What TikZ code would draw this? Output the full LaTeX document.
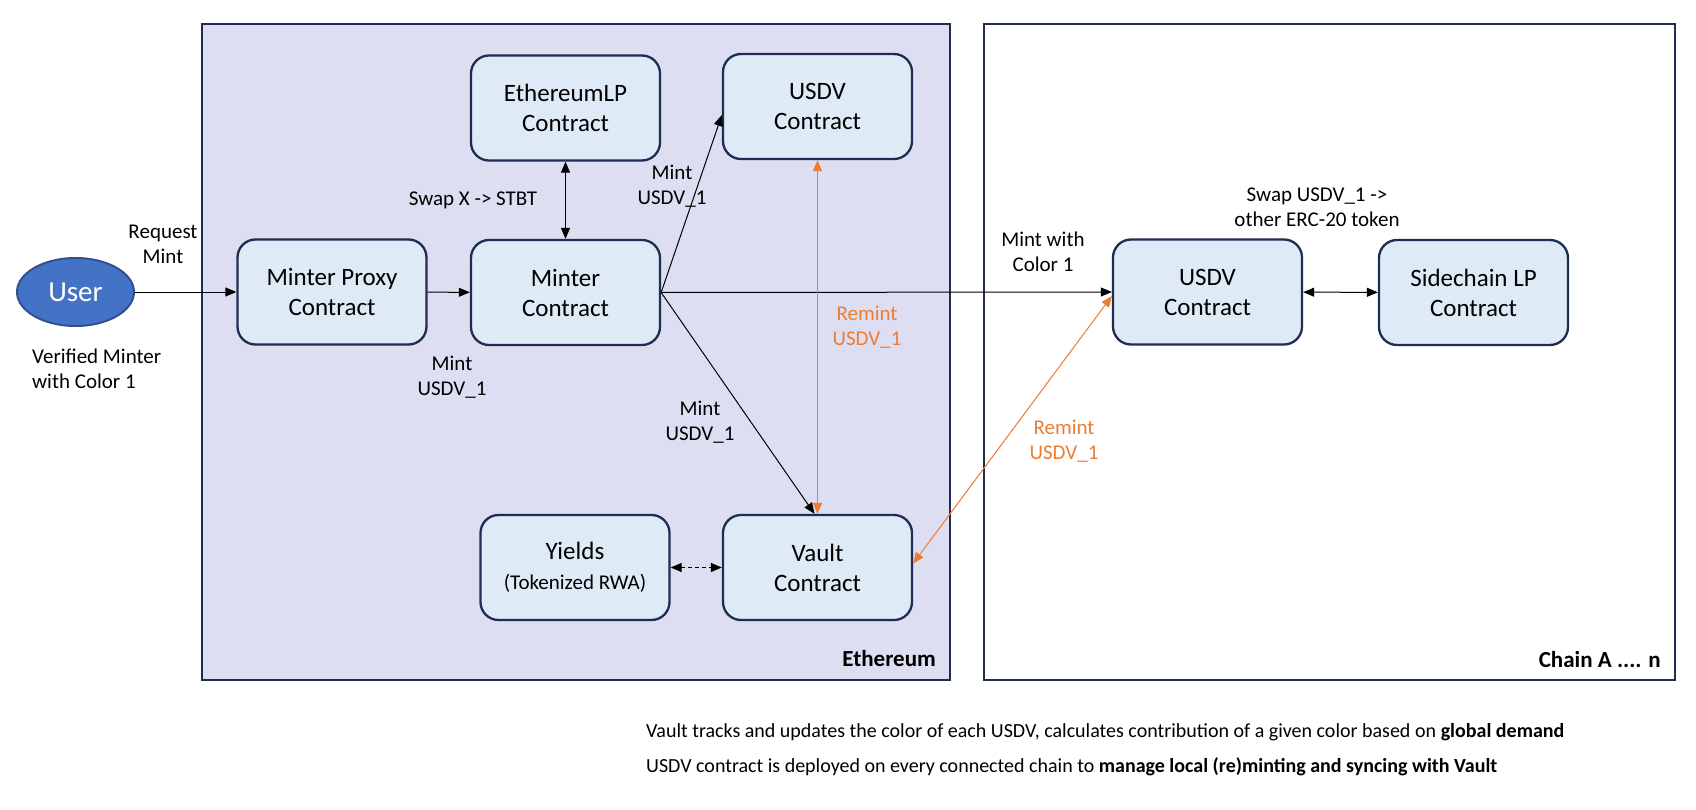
\documentclass[tikz,border=0pt]{standalone}
\usepackage{fontspec}
\setmainfont{Carlito}
\usetikzlibrary{arrows.meta,shapes.geometric}

\definecolor{panelfill}{RGB}{222,222,242}
\definecolor{boxfill}{RGB}{222,234,246}
\definecolor{navy}{RGB}{31,45,82}
\definecolor{remint}{RGB}{237,125,49}
\definecolor{userfill}{RGB}{68,114,196}
\definecolor{userline}{RGB}{47,82,143}

\begin{document}
\begin{tikzpicture}[x=1pt,y=-1pt,
  contract/.style={draw=navy,line width=2.3pt,fill=boxfill,rounded corners=18pt,
    minimum width=189pt,minimum height=105pt,align=center,font=\fontsize{25}{30}\selectfont},
  lbl/.style={align=center,inner sep=0pt,font=\fontsize{21}{25}\selectfont},
  tag/.style={inner sep=0pt,anchor=east,font=\bfseries\fontsize{23}{28}\selectfont},
  panel/.style={draw=navy,line width=2.3pt},
  flow/.style={line width=1pt,-{Triangle[length=11pt,width=9pt]}},
  both/.style={line width=1pt,{Triangle[length=11pt,width=9pt]}-{Triangle[length=11pt,width=9pt]}},
]
\useasboundingbox (0,0) rectangle (1696,810);
% the two chains
\draw[panel,fill=panelfill] (202,24) rectangle (950,680);
\draw[panel,fill=white] (984,24) rectangle (1675,680);
\node[tag] (eth) at (936,659) {Ethereum};
\node[tag] (chains) at (1661,660) {Chain A .... n};

% user and contracts
\node[ellipse,draw=userline,line width=2pt,fill=userfill,minimum width=117pt,minimum height=68pt,
  inner sep=0pt,text=white,font=\fontsize{29}{30}\selectfont] (user) at (75.5,292) {User};
\node[contract] (proxy) at (332,292) {Minter Proxy\\Contract};
\node[contract] (minter) at (565.5,292.5) {Minter\\Contract};
\node[contract] (lp) at (565.5,108) {EthereumLP\\Contract};
\node[contract] (usdv) at (817.5,106.5) {USDV\\Contract};
\node[contract] (vault) at (817.5,567.5) {Vault\\Contract};
\node[contract] (yields) at (575,567.5) {Yields\\{\fontsize{21}{25}\selectfont(Tokenized RWA)}};
\node[contract] (usdvB) at (1207.5,292) {USDV\\Contract};
\node[contract] (sidelp) at (1473.5,292.5) {Sidechain LP\\Contract};

% connectors
\draw[flow] (user) -- (proxy);
\draw[flow] (proxy) -- (minter);
\draw[both] (minter) -- (lp);
\draw[flow] (minter.east) -- ([yshift=-8.5pt]usdv.west);
\draw[flow] (minter.east) -- ([xshift=-3pt]vault.north);
\draw[flow] (minter.east) -- (usdvB.west);
\draw[both,dash pattern=on 4pt off 3pt] (yields) -- (vault);
\draw[both] (usdvB) -- (sidelp);
\draw[both,draw=remint,fill=remint] (usdv) -- (vault);
\draw[both,draw=remint,fill=remint] ([yshift=4pt]vault.east) -- ([yshift=-4pt]usdvB.west);

% labels
\node[lbl] (request) at (163,244) {Request\\Mint};
\node[lbl,align=left,anchor=west] (verified) at (32,369) {Verified Minter\\with Color 1};
\node[lbl] (swap) at (473,200) {Swap X -> STBT};
\node[lbl] (mintup) at (672,186) {Mint\\USDV\_1};
\node[lbl] (mintproxy) at (452,377) {Mint\\USDV\_1};
\node[lbl] (mintvault) at (700,422) {Mint\\USDV\_1};
\node[lbl,text=remint] (remintup) at (867,327) {Remint\\USDV\_1};
\node[lbl,text=remint] (remintside) at (1064,441) {Remint\\USDV\_1};
\node[lbl] (mintcolor) at (1043,252) {Mint with\\Color 1};
\node[lbl] (swapside) at (1317,207) {Swap USDV\_1 ->\\other ERC-20 token};

% note below
\node[inner sep=0pt,anchor=base west,font=\fontsize{20}{24}\selectfont] (note1) at (646,737)
  {Vault tracks and updates the color of each USDV, calculates contribution of a given color based on \textbf{global demand}};
\node[inner sep=0pt,anchor=base west,font=\fontsize{20}{24}\selectfont] (note2) at (646,772)
  {USDV contract is deployed on every connected chain to \textbf{manage local (re)minting and syncing with Vault}};
\end{tikzpicture}
\end{document}
